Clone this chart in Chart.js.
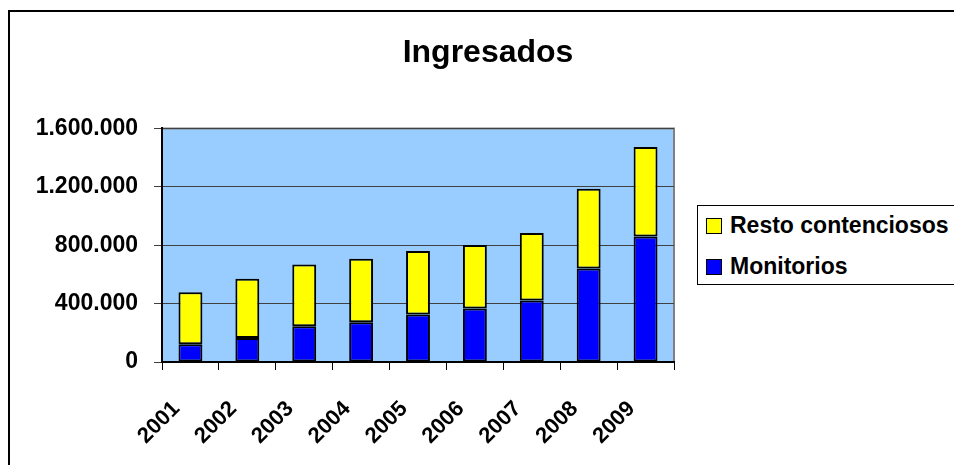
<!DOCTYPE html>
<html>
<head>
<meta charset="utf-8">
<script src="https://cdn.jsdelivr.net/npm/chart.js@4"></script>
<style>
  body { margin: 0; background: #fff; overflow: hidden; }
  #wrap { position: relative; width: 954px; height: 465px; overflow: hidden; }
  #frame { position: absolute; left: 8px; top: 10px; right: -10px; bottom: -10px;
           border-left: 2px solid #000; border-top: 2px solid #000; }
  #legend { position: absolute; left: 697px; top: 205px; width: 300px; height: 78px;
            border: 1px solid #000; background: #fff;
            font: bold 23px "Liberation Sans", Arial, sans-serif; }
  .item { position: absolute; left: 8px; height: 26px; line-height: 26px; white-space: nowrap; }
  .item span { display: inline-block; width: 14px; height: 14px; border: 1px solid #000;
               margin-right: 8px; vertical-align: -1px; }
</style>
</head>
<body>
<div id="wrap">
  <canvas id="myChart" width="954" height="465"></canvas>
  <div id="frame"></div>
  <div id="legend">
    <div class="item" style="top:6px"><span style="background:#ffff00"></span>Resto contenciosos</div>
    <div class="item" style="top:47px"><span style="background:#0000ff"></span>Monitorios</div>
  </div>
</div>
<script>
'use strict';
let years = ['2001', '2002', '2003', '2004', '2005', '2006', '2007', '2008', '2009'];
let monitorios = [121000, 164000, 245000, 273000, 325000, 366000, 422000, 641000, 859000];
let resto = [356000, 406000, 423000, 434000, 436000, 436000, 462000, 545000, 613000];
let yTicks = [0, 400000, 800000, 1200000, 1600000];

let fontFamily = '"Liberation Sans", Arial, sans-serif';

function puntos(v) {
    return String(v).replace(/\B(?=(\d{3})+(?!\d))/g, '.');
}

// light blue plot area with grey frame on top and right
let plotBack = {
    id: 'plotBack',
    beforeDraw(chart) {
        let a = chart.chartArea;
        let ctx = chart.ctx;
        ctx.save();
        ctx.fillStyle = '#99ccff';
        ctx.fillRect(a.left, a.top, a.right - a.left, a.bottom - a.top);
        ctx.strokeStyle = '#808080';
        ctx.lineWidth = 2;
        ctx.beginPath();
        ctx.moveTo(a.left, a.top);
        ctx.lineTo(a.right, a.top);
        ctx.lineTo(a.right, a.bottom);
        ctx.stroke();
        ctx.restore();
    }
};

let ctx = document.getElementById('myChart').getContext('2d');
let myChart = new Chart(ctx, {
    type: 'bar',
    data: {
        labels: years,
        datasets: [{
            label: 'Monitorios',
            data: monitorios,
            backgroundColor: '#0000ff',
            borderColor: '#000',
            borderWidth: 2,
            borderSkipped: false
        }, {
            label: 'Resto contenciosos',
            data: resto,
            backgroundColor: '#ffff00',
            borderColor: '#000',
            borderWidth: 2,
            borderSkipped: false
        }]
    },
    options: {
        responsive: false,
        animation: false,
        layout: { padding: { left: 22, right: 0, top: 0, bottom: 0 } },
        datasets: { bar: { categoryPercentage: 1, barPercentage: 0.42 } },
        plugins: {
            legend: { display: false },
            tooltip: { enabled: false },
            title: {
                display: true,
                text: 'Ingresados',
                color: '#000',
                font: { family: fontFamily, size: 32, weight: 'bold' },
                padding: { top: 34, bottom: 56 }
            }
        },
        scales: {
            x: {
                stacked: true,
                afterFit(scale) { scale.height = 103; },
                grid: { drawOnChartArea: false, color: '#000', tickLength: 8, offset: true },
                border: { color: '#000', width: 2 },
                ticks: {
                    color: '#000',
                    minRotation: 45,
                    maxRotation: 45,
                    padding: 26,
                    labelOffset: -14,
                    font: { family: fontFamily, size: 22, weight: 'bold' }
                }
            },
            y: {
                stacked: true,
                min: 0,
                max: 1600000,
                afterFit(scale) { scale.width = 140; },
                afterBuildTicks(scale) { scale.ticks = yTicks.map(v => ({ value: v })); },
                grid: { color: '#404040', tickLength: 8 },
                border: { color: '#000', width: 2 },
                ticks: {
                    color: '#000',
                    padding: 16,
                    font: { family: fontFamily, size: 23, weight: 'bold' },
                    callback: v => puntos(v)
                }
            },
            // empty space on the right where the legend sits
            side: {
                position: 'right',
                afterFit(scale) { scale.width = 280; },
                grid: { display: false },
                border: { display: false },
                ticks: { display: false }
            }
        }
    },
    plugins: [plotBack]
});
</script>
</body>
</html>
